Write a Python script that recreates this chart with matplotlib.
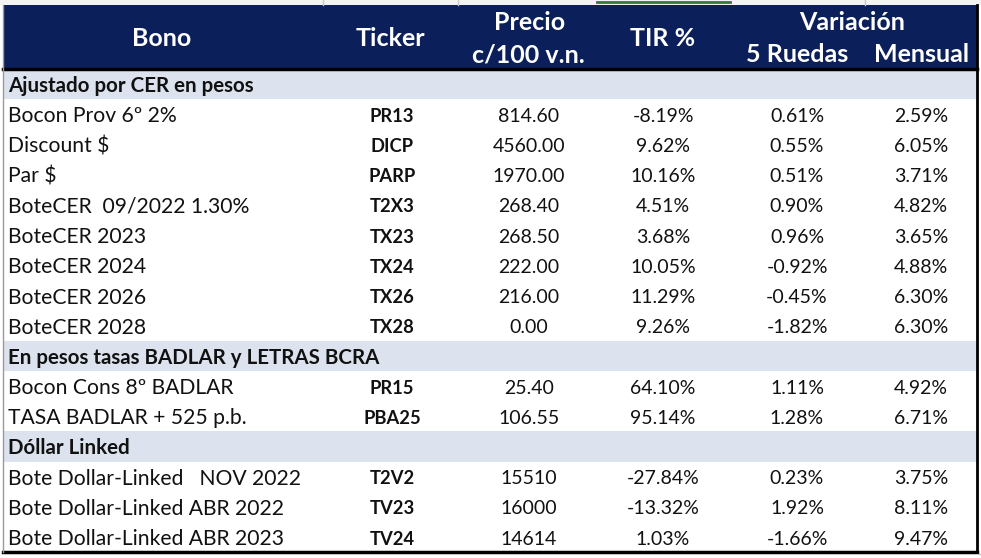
import matplotlib.pyplot as plt
from matplotlib.patches import Rectangle

# table content
sections = ["Ajustado por CER en pesos", "En pesos tasas BADLAR y LETRAS BCRA", "Dóllar Linked"]
section_rows = [8, 2, 3]

bonos = [
    "Bocon Prov 6º 2%", "Discount $", "Par $", "BoteCER  09/2022 1.30%",
    "BoteCER 2023", "BoteCER 2024", "BoteCER 2026", "BoteCER 2028",
    "Bocon Cons 8º BADLAR", "TASA BADLAR + 525 p.b.",
    "Bote Dollar-Linked   NOV 2022", "Bote Dollar-Linked ABR 2022", "Bote Dollar-Linked ABR 2023",
]
tickers = ["PR13", "DICP", "PARP", "T2X3", "TX23", "TX24", "TX26", "TX28",
           "PR15", "PBA25", "T2V2", "TV23", "TV24"]
precios = ["814.60", "4560.00", "1970.00", "268.40", "268.50", "222.00", "216.00", "0.00",
           "25.40", "106.55", "15510", "16000", "14614"]
tir = [-8.19, 9.62, 10.16, 4.51, 3.68, 10.05, 11.29, 9.26, 64.10, 95.14, -27.84, -13.32, 1.03]
ruedas = [0.61, 0.55, 0.51, 0.90, 0.96, -0.92, -0.45, -1.82, 1.11, 1.28, 0.23, 1.92, -1.66]
mensual = [2.59, 6.05, 3.71, 4.82, 3.65, 4.88, 6.30, 6.30, 4.92, 6.71, 3.75, 8.11, 9.47]

NAVY = "#0b1f5b"
SECTION_BG = "#dce3ee"
FONT = "Lato"

W, H = 981, 558
fig = plt.figure(figsize=(W / 100, H / 100), dpi=100)
ax = fig.add_axes([0, 0, 1, 1])
ax.set_xlim(0, W)
ax.set_ylim(H, 0)
ax.axis("off")

# excel grid strip above the table
ax.add_patch(Rectangle((0, 0), W, 5, color="#f3f3f3", lw=0))
for gx in [323, 458, 865]:
    ax.plot([gx, gx], [0, 5], color="#c8c8c8", lw=1)
ax.plot([597, 730], [1.5, 1.5], color="#2e7d32", lw=2)

top, left, right = 5, 3, 977
head_bottom = 69
row_h = 30.2

# header
ax.add_patch(Rectangle((left, top), right - left, head_bottom - top, color=NAVY, lw=0))
hstyle = dict(color="white", fontsize=18, fontweight="bold", family=FONT, va="center", ha="center")
ax.text(162, 39, "Bono", **hstyle)
ax.text(390, 39, "Ticker", **hstyle)
ax.text(530, 22, "Precio", **hstyle)
ax.text(528, 55, "c/100 v.n.", **hstyle)
ax.text(663, 39, "TIR %", **hstyle)
ax.text(852, 22, "Variación", **hstyle)
ax.text(797, 55, "5 Ruedas", **hstyle)
ax.text(922, 55, "Mensual", **hstyle)

# body
cstyle = dict(color="#111111", family=FONT, va="center")
y = head_bottom
i = 0
for sec, n in zip(sections, section_rows):
    ax.add_patch(Rectangle((left, y), right - left, row_h, color=SECTION_BG, lw=0))
    ax.text(8, y + row_h / 2 + 2, sec, fontweight="bold", fontsize=14.8, ha="left", **cstyle)
    y += row_h
    for _ in range(n):
        yc = y + row_h / 2 + 2
        ax.text(8, yc, bonos[i], ha="left", fontsize=15.2, **cstyle)
        ax.text(392, yc, tickers[i], ha="center", fontweight="bold", fontsize=13.2, **cstyle)
        ax.text(529, yc, precios[i], ha="center", fontsize=14, **cstyle)
        ax.text(663, yc, f"{tir[i]:.2f}%", ha="center", fontsize=14, **cstyle)
        ax.text(797, yc, f"{ruedas[i]:.2f}%", ha="center", fontsize=14, **cstyle)
        ax.text(948, yc, f"{mensual[i]:.2f}%", ha="right", fontsize=14, **cstyle)
        y += row_h
        i += 1

# borders
ax.plot([left, right], [head_bottom, head_bottom], color="black", lw=2.5)
ax.plot([left, right], [y, y], color="black", lw=2.5)
ax.plot([right, right], [top, y], color="black", lw=2)
ax.plot([left, left], [top, y], color="#9a9a9a", lw=1)
ax.plot([right + 2, W], [y + 2, y + 2], color="#c8c8c8", lw=1)

fig.savefig("out.png", dpi=100)
